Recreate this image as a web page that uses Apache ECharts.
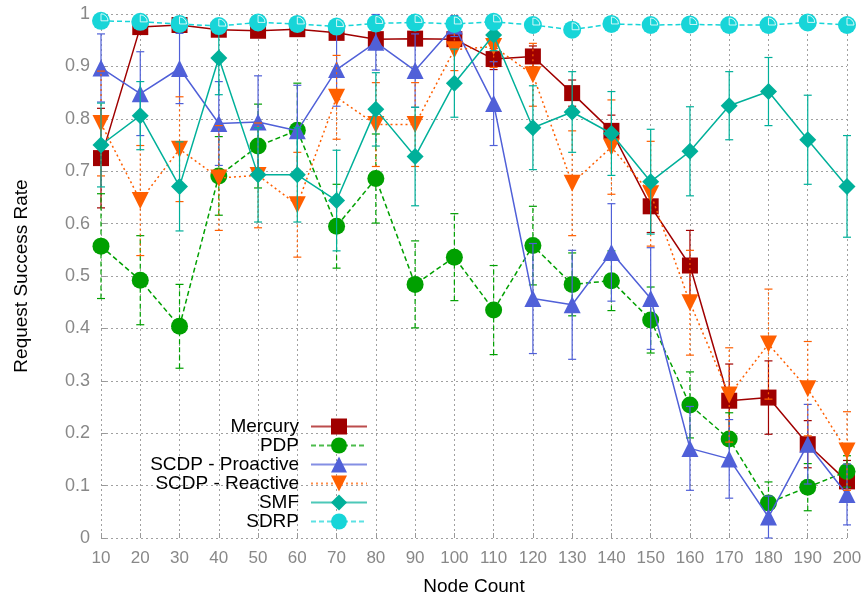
<!DOCTYPE html>
<html>
<head>
<meta charset="utf-8">
<script src="https://cdn.jsdelivr.net/npm/echarts@6/dist/echarts.min.js"></script>
<style>
  html, body { margin: 0; padding: 0; background: #fff; }
  #main { width: 868px; height: 601px; }
</style>
</head>
<body>
<div id="main"></div>
<script>
var nodeCounts = ['10', '20', '30', '40', '50', '60', '70', '80', '90', '100',
  '110', '120', '130', '140', '150', '160', '170', '180', '190', '200'];

var mercury = [0.725, 0.975, 0.979, 0.970, 0.968, 0.971, 0.964, 0.952, 0.953, 0.952,
  0.914, 0.919, 0.849, 0.777, 0.633, 0.520, 0.262, 0.268, 0.179, 0.108];
var mercuryErr = [0.095, 0.010, 0.010, 0.010, 0.010, 0.010, 0.010, 0.010, 0.010, 0.010,
  0.020, 0.020, 0.025, 0.030, 0.050, 0.067, 0.070, 0.070, 0.045, 0.040];

var pdp = [0.557, 0.492, 0.404, 0.691, 0.748, 0.778, 0.595, 0.686, 0.484, 0.536,
  0.435, 0.558, 0.484, 0.491, 0.416, 0.254, 0.189, 0.067, 0.097, 0.127];
var pdpErr = [0.100, 0.085, 0.080, 0.075, 0.080, 0.090, 0.080, 0.085, 0.083, 0.083,
  0.085, 0.075, 0.060, 0.057, 0.063, 0.063, 0.050, 0.040, 0.045, 0.030];

var proactive = [0.897, 0.848, 0.896, 0.791, 0.794, 0.777, 0.894, 0.946, 0.892, 0.977,
  0.829, 0.457, 0.445, 0.545, 0.457, 0.171, 0.151, 0.040, 0.179, 0.083];
var proactiveErr = [0.065, 0.080, 0.067, 0.080, 0.088, 0.087, 0.070, 0.053, 0.070, 0.020,
  0.080, 0.105, 0.104, 0.093, 0.097, 0.080, 0.075, 0.040, 0.076, 0.058];

var reactive = [0.791, 0.644, 0.742, 0.687, 0.692, 0.636, 0.841, 0.789, 0.789, 0.932,
  0.938, 0.884, 0.677, 0.746, 0.657, 0.449, 0.273, 0.370, 0.285, 0.166];
var reactiveErr = [0.100, 0.105, 0.100, 0.100, 0.100, 0.100, 0.080, 0.080, 0.080, 0.040,
  0.040, 0.060, 0.100, 0.090, 0.100, 0.100, 0.090, 0.105, 0.090, 0.075];

var smf = [0.750, 0.806, 0.671, 0.916, 0.693, 0.693, 0.644, 0.818, 0.728, 0.868,
  0.960, 0.783, 0.813, 0.772, 0.680, 0.738, 0.825, 0.852, 0.760, 0.671];
var smfErr = [0.080, 0.065, 0.085, 0.070, 0.090, 0.090, 0.096, 0.070, 0.094, 0.065,
  0.030, 0.080, 0.077, 0.080, 0.100, 0.085, 0.065, 0.065, 0.085, 0.097];

var sdrp = [0.987, 0.985, 0.981, 0.977, 0.984, 0.981, 0.976, 0.982, 0.984, 0.981,
  0.985, 0.979, 0.970, 0.981, 0.979, 0.980, 0.979, 0.979, 0.984, 0.979];
var sdrpErr = [0.005, 0.005, 0.005, 0.005, 0.005, 0.005, 0.005, 0.005, 0.005, 0.005,
  0.005, 0.005, 0.005, 0.005, 0.005, 0.005, 0.005, 0.005, 0.005, 0.005];

var chart = echarts.init(document.getElementById('main'));

// error bars: vertical line with small caps, drawn through the axes
function errorSeries(name, vals, errs, color, dash, z) {
  var data = vals.map(function (v, i) { return [i, v - errs[i], v + errs[i]]; });
  return {
    type: 'custom',
    name: name + ' err',
    z: z,
    silent: true,
    data: data,
    renderItem: function (params, api) {
      var lo = api.coord([api.value(0), api.value(1)]);
      var hi = api.coord([api.value(0), api.value(2)]);
      var style = { stroke: color, lineWidth: 1.2, lineDash: dash };
      var capStyle = { stroke: color, lineWidth: 1.2 };
      return {
        type: 'group',
        children: [
          { type: 'line', shape: { x1: lo[0], y1: lo[1], x2: hi[0], y2: hi[1] }, style: style },
          { type: 'line', shape: { x1: lo[0] - 4, y1: lo[1], x2: lo[0] + 4, y2: lo[1] }, style: capStyle },
          { type: 'line', shape: { x1: hi[0] - 4, y1: hi[1], x2: hi[0] + 4, y2: hi[1] }, style: capStyle }
        ]
      };
    }
  };
}

function lineSeries(name, vals, color, symbol, size, dash, z, rotate) {
  return {
    type: 'line',
    name: name,
    data: vals,
    z: z,
    symbol: symbol,
    symbolSize: size,
    symbolRotate: rotate || 0,
    showAllSymbol: true,
    lineStyle: { color: color, width: 1.5, type: dash },
    itemStyle: { color: color, opacity: 1 }
  };
}

var cMercury = '#a00000';
var cPdp = '#00a000';
var cPro = '#5060d8';
var cRea = '#ff5f00';
var cSmf = '#00b09a';
var cSdrp = '#17d5d8';

var option = {
  animation: false,
  textStyle: { fontFamily: 'Liberation Sans' },
  grid: { left: 101, right: 21, top: 14, bottom: 60 },
  legend: {
    data: ['Mercury', 'PDP', 'SCDP - Proactive', 'SCDP - Reactive', 'SMF', 'SDRP'],
    orient: 'vertical',
    align: 'right',
    right: 495,
    top: 412,
    itemWidth: 56,
    itemHeight: 20,
    itemGap: 0,
    lineStyle: { opacity: 0.7 },
    textStyle: { fontSize: 19, color: '#000', padding: [0, 7, 0, 0] }
  },
  xAxis: {
    type: 'category',
    data: nodeCounts,
    boundaryGap: false,
    name: 'Node Count',
    nameLocation: 'middle',
    nameGap: 39,
    nameTextStyle: { fontSize: 19, color: '#000' },
    axisLine: { show: false },
    axisTick: { show: true, inside: true, length: 5, lineStyle: { color: '#999' } },
    axisLabel: { color: '#888', fontSize: 17, margin: 12 },
    splitLine: { show: true, lineStyle: { color: '#a0a0a0', type: [2, 3] } }
  },
  yAxis: {
    type: 'value',
    min: 0,
    max: 1,
    interval: 0.1,
    name: 'Request Success Rate',
    nameLocation: 'middle',
    nameGap: 70,
    nameTextStyle: { fontSize: 19, color: '#000' },
    axisLine: { show: false },
    axisTick: { show: true, inside: true, length: 5, lineStyle: { color: '#999' } },
    axisLabel: { color: '#888', fontSize: 18, margin: 11 },
    splitLine: { show: true, lineStyle: { color: '#a0a0a0', type: [2, 3] } }
  },
  series: [
    errorSeries('Mercury', mercury, mercuryErr, cMercury, null, 1),
    lineSeries('Mercury', mercury, cMercury, 'rect', 16, 'solid', 2),
    errorSeries('PDP', pdp, pdpErr, cPdp, [5, 3], 3),
    lineSeries('PDP', pdp, cPdp, 'circle', 17, [5, 3], 4),
    errorSeries('SCDP - Proactive', proactive, proactiveErr, cPro, null, 5),
    lineSeries('SCDP - Proactive', proactive, cPro, 'triangle', 17, 'solid', 6),
    errorSeries('SCDP - Reactive', reactive, reactiveErr, cRea, [2, 3], 7),
    lineSeries('SCDP - Reactive', reactive, cRea, 'triangle', 17, [2, 3], 8, 180),
    errorSeries('SMF', smf, smfErr, cSmf, null, 9),
    lineSeries('SMF', smf, cSmf, 'diamond', 17, 'solid', 10),
    errorSeries('SDRP', sdrp, sdrpErr, cSdrp, [5, 3], 11),
    lineSeries('SDRP', sdrp, cSdrp, 'circle', 18, [5, 3], 12),
    {
      // white quarter highlight on the SDRP markers
      type: 'scatter',
      name: 'SDRP mark',
      data: sdrp,
      z: 13,
      silent: true,
      symbol: 'path://M0,7 L0,0 A7,7 0 0,1 7,7 Z',
      symbolSize: [7, 7],
      symbolOffset: [3.5, -3.5],
      itemStyle: { color: cSdrp, borderColor: '#fff', borderWidth: 1 }
    }
  ]
};

chart.setOption(option);
</script>
</body>
</html>
